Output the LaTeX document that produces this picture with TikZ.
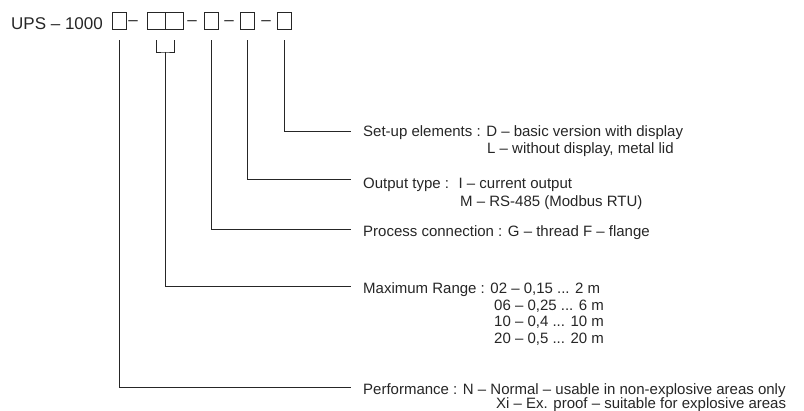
\documentclass[tikz,border=0pt]{standalone}
\usepackage{fontspec}
\setmainfont{Liberation Sans}
\begin{document}
\begin{tikzpicture}[x=1pt,y=-1pt,
  txt/.style={anchor=base west,inner sep=0pt,text=black!85,font=\fontsize{15}{18}\selectfont},
  head/.style={anchor=base west,inner sep=0pt,text=black!85,font=\fontsize{17}{20}\selectfont},
  sep/.style={anchor=base,inner sep=0pt,text=black!85,font=\fontsize{17}{20}\selectfont},
  cbox/.style={draw=black!85,line width=0.9pt,inner sep=0pt,minimum height=17pt,minimum width=14pt},
  wbox/.style={cbox,minimum width=18pt},
  lead/.style={draw=black!85,line width=0.9pt}]
\useasboundingbox (0,0) rectangle (804,411);
% header
\node[head] (ups) at (11,30) {UPS – 1000};
\node[cbox] (b1) at (119,20.5) {};
\node[sep] (d1) at (133,26) {–};
\node[wbox] (b2) at (156,20.5) {};
\node[wbox] (b3) at (174,20.5) {};
\node[sep] (d2) at (192,26) {–};
\node[cbox] (b4) at (211,20.5) {};
\node[sep] (d3) at (229,26) {–};
\node[cbox] (b5) at (247,20.5) {};
\node[sep] (d4) at (266,26) {–};
\node[cbox] (b6) at (284,20.5) {};
% texts
\node[txt] (t1) at (363,137) {Set-up elements : D – basic version with display};
\node[txt] (t1b) at (487,154) {L – without display, metal lid};
\node[txt] (t2) at (363,189) {Output type :\hspace{4pt} I – current output};
\node[txt] (t2b) at (460,207) {M – RS-485 (Modbus RTU)};
\node[txt] (t3) at (363,237) {Process connection : G – thread F – flange};
\node[txt] (t4) at (363,294) {Maximum Range : 02 – 0,15 ... 2 m};
\node[txt] (t4b) at (494,311) {06 – 0,25 ... 6 m};
\node[txt] (t4c) at (494,327) {10 – 0,4 ... 10 m};
\node[txt] (t4d) at (494,344) {20 – 0,5 ... 20 m};
\node[txt] (t5) at (363,395) {Performance : N – Normal – usable in non-explosive areas only};
\node[txt] (t5b) at (496,409) {Xi – Ex. proof – suitable for explosive areas};
% line ends
\coordinate (e1) at (351,131);
\coordinate (e2) at (351,179);
\coordinate (e3) at (351,229);
\coordinate (e4) at (351,286);
\coordinate (e5) at (351,387);
\coordinate (m23) at (165,52);
% leaders
\draw[lead] ([yshift=-11pt]b6.south) |- (e1);
\draw[lead] ([yshift=-11pt]b5.south) |- (e2);
\draw[lead] ([yshift=-11pt]b4.south) |- (e3);
\draw[lead] ([yshift=-11pt]b2.south) |- (m23) -| ([yshift=-11pt]b3.south);
\draw[lead] (m23) |- (e4);
\draw[lead] ([yshift=-11pt]b1.south) |- (e5);
\end{tikzpicture}
\end{document}
